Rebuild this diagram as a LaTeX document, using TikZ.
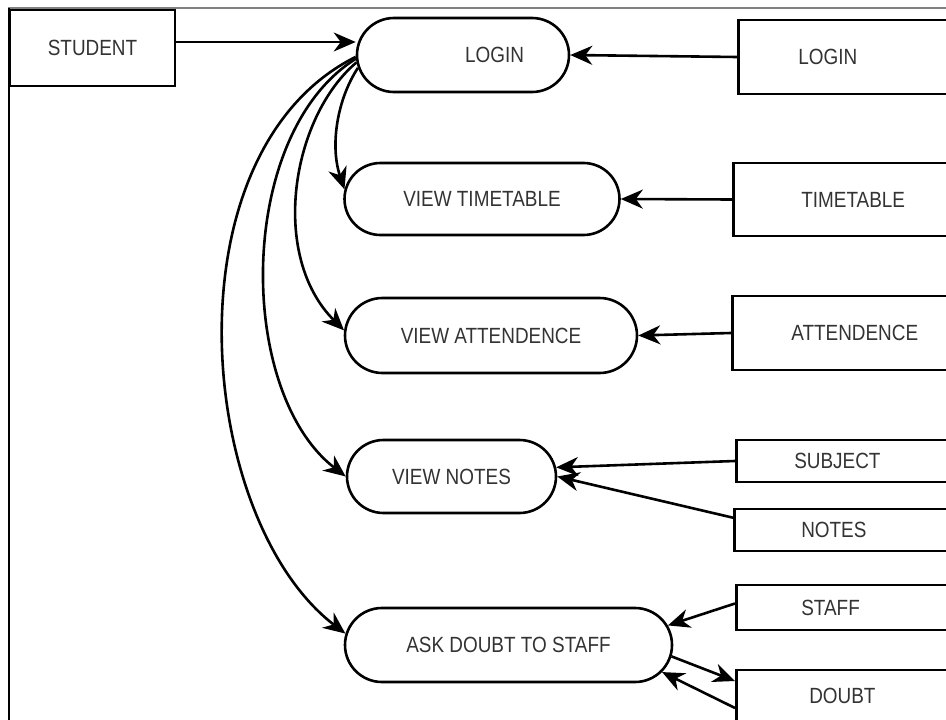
\documentclass[tikz,border=0pt]{standalone}
\usepackage{fontspec}
\setmainfont{Liberation Sans}[FakeStretch=0.86]
\usetikzlibrary{shapes.misc,arrows.meta}
\begin{document}
\begin{tikzpicture}[x=1pt,y=-1pt,
  every node/.style={font=\fontsize{22}{24}\selectfont, text=black!80},
  actor/.style={draw=black, line width=2.8pt, rectangle, minimum width=165, minimum height=76},
  usecase/.style={draw=black, line width=2.6pt, rounded rectangle, inner sep=0pt},
  store/.style={draw=black, line width=2.6pt, rectangle, anchor=west, text width=220pt, align=left, inner ysep=0pt},
  flow/.style={line width=2.6pt, -{Stealth[length=22pt,width=19pt,inset=7pt]}}]
\useasboundingbox (0,0) rectangle (946,720);
\clip (0,0) rectangle (946,720);
\fill[white] (0,0) rectangle (946,720);
\draw[gray, line width=1.2pt] (9,720) -- (9,8) -- (946,8);
\draw[line width=1.2pt] (9,720) -- (9,8);
\node[actor] (student) at (92.5,48){STUDENT};
\node[usecase, minimum width=212, minimum height=74, text width=122pt, align=right] (login) at (463,55){LOGIN};
\node[usecase, minimum width=275, minimum height=72] (viewtt) at (482,199){VIEW TIMETABLE};
\node[usecase, minimum width=292, minimum height=75] (viewatt) at (491,335.5){VIEW ATTENDENCE};
\node[usecase, minimum width=209, minimum height=73] (viewnotes) at (451.5,476.5){VIEW NOTES};
\node[usecase, minimum width=327, minimum height=74] (askdoubt) at (508.5,645){ASK DOUBT TO STAFF};
\node[store, minimum height=74, inner xsep=60pt] (loginsrc) at (737,57){LOGIN};
\node[store, minimum height=73, inner xsep=68pt] (ttsrc) at (732,199.5){TIMETABLE};
\node[store, minimum height=74, inner xsep=59pt] (attsrc) at (731,333){ATTENDENCE};
\node[store, minimum height=42, inner xsep=58pt] (subjsrc) at (735,461){SUBJECT};
\node[store, minimum height=42, inner xsep=67pt] (notessrc) at (733,530){NOTES};
\node[store, minimum height=45, inner xsep=65pt] (staffsrc) at (735,607.5){STAFF};
\node[store, minimum height=52, inner xsep=73pt] (doubtsrc) at (735,696){DOUBT};
\draw[flow] ([yshift=6pt]student.east) -- ([yshift=13pt]login.west);
\draw[flow] (loginsrc.west) -- (login.east);
\draw[flow] (ttsrc.west) -- (viewtt.east);
\draw[flow] (attsrc.west) -- (viewatt.east);
\draw[flow] (subjsrc.west) -- (viewnotes.5);
\draw[flow] ([yshift=-10pt]notessrc.north west) -- (viewnotes.east);
\draw[flow] ([yshift=4pt]staffsrc.west) -- (askdoubt.7);
\draw[flow] (askdoubt.-4) -- ([yshift=15pt]doubtsrc.west);
\draw[flow] ([yshift=-12pt]doubtsrc.west) -- (askdoubt.-10);
% login to the use cases
\draw[flow] (login.187) .. controls +(-20,30) and +(-15,-45) .. (viewtt.176);
\draw[flow] (login.184) .. controls +(-65,55) and +(-75,-75) .. (viewatt.178);
\draw[flow] (login.182) .. controls +(-120,75) and +(-110,-85) .. (viewnotes.west);
\draw[flow] (login.181) .. controls +(-190,95) and +(-150,-115) .. (askdoubt.176);
\end{tikzpicture}
\end{document}
